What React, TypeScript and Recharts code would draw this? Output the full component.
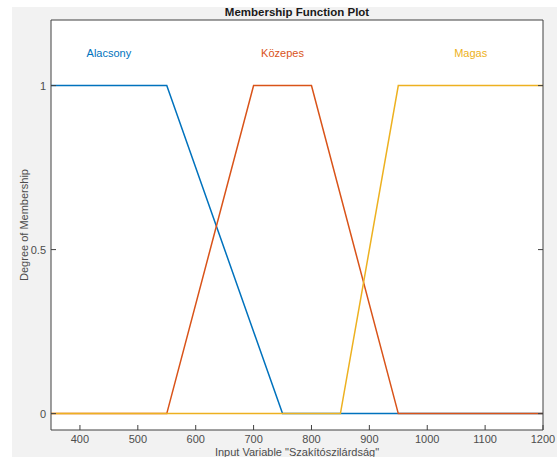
import { CartesianGrid, Line, LineChart, ReferenceDot, XAxis, YAxis } from "recharts";

const xTicks = [400, 500, 600, 700, 800, 900, 1000, 1100, 1200];
const yTicks = [0, 0.5, 1];

const alacsony = [
  { x: 350, y: 1 },
  { x: 550, y: 1 },
  { x: 750, y: 0 },
  { x: 1200, y: 0 }
];
const kozepes = [
  { x: 350, y: 0 },
  { x: 550, y: 0 },
  { x: 700, y: 1 },
  { x: 800, y: 1 },
  { x: 950, y: 0 },
  { x: 1200, y: 0 }
];
const magas = [
  { x: 350, y: 0 },
  { x: 850, y: 0 },
  { x: 950, y: 1 },
  { x: 1200, y: 1 }
];

const mfLabels = [
  { name: "Alacsony", x: 450, y: 1.1, color: "#0072BD" },
  { name: "Közepes", x: 750, y: 1.1, color: "#D95319" },
  { name: "Magas", x: 1075, y: 1.1, color: "#EDB120" }
];

const font = "'Liberation Sans', Arial, sans-serif";
const axisColor = "#404040";
const textColor = "#4d4d4d";

function BottomTick({ x, y, payload }: any) {
  return (
    <g>
      <line x1={x} x2={x} y1={y} y2={y - 5} stroke={axisColor} />
      <text x={x} y={y + 13} textAnchor="middle" fontSize={11} fill={textColor} fontFamily={font}>
        {payload.value}
      </text>
    </g>
  );
}

function TopTick({ x, y }: any) {
  return <line x1={x} x2={x} y1={y} y2={y + 5} stroke={axisColor} />;
}

function LeftTick({ x, y, payload }: any) {
  return (
    <g>
      <line x1={x} x2={x + 5} y1={y} y2={y} stroke={axisColor} />
      <text x={x - 5} y={y + 4} textAnchor="end" fontSize={11} fill={textColor} fontFamily={font}>
        {payload.value}
      </text>
    </g>
  );
}

function RightTick({ x, y }: any) {
  return <line x1={x} x2={x - 5} y1={y} y2={y} stroke={axisColor} />;
}

export default function App() {
  return (
    <div
      style={{
        position: "absolute",
        left: 0,
        top: 0,
        width: 557,
        height: 457,
        overflow: "hidden",
        background: "#fff"
      }}
    >
      <div
        style={{ position: "absolute", left: 12, top: 7, right: 0, bottom: 0, background: "#f2f2f2" }}
      />
      <div style={{ position: "absolute", left: 0, top: 0 }}>
        <LineChart width={557} height={457} margin={{ top: 0, right: 0, bottom: 0, left: 0 }}>
          <CartesianGrid fill="#ffffff" horizontal={false} vertical={false} />
          <XAxis
            type="number"
            dataKey="x"
            domain={[350, 1200]}
            ticks={xTicks}
            height={27}
            allowDataOverflow
            tickLine={false}
            tickSize={0}
            tickMargin={0}
            axisLine={{ stroke: axisColor }}
            tick={<BottomTick />}
            interval={0}
            label={{
              content: ({ viewBox }: any) => (
                <text
                  x={viewBox.x + viewBox.width / 2}
                  y={455.5}
                  textAnchor="middle"
                  fontSize={11}
                  fill={textColor}
                  fontFamily={font}
                >
                  Input Variable "Szakítószilárdság"
                </text>
              )
            }}
          />
          <XAxis
            xAxisId="top"
            orientation="top"
            type="number"
            domain={[350, 1200]}
            ticks={xTicks}
            height={20}
            allowDataOverflow
            tickLine={false}
            tickSize={0}
            tickMargin={0}
            axisLine={{ stroke: axisColor }}
            tick={<TopTick />}
            interval={0}
            label={{
              content: ({ viewBox }: any) => (
                <text
                  x={viewBox.x + viewBox.width / 2}
                  y={16}
                  textAnchor="middle"
                  fontSize={11.5}
                  fontWeight="bold"
                  fill="#1a1a1a"
                  fontFamily={font}
                >
                  Membership Function Plot
                </text>
              )
            }}
          />
          <YAxis
            type="number"
            domain={[-0.05, 1.2]}
            ticks={yTicks}
            width={51}
            allowDataOverflow
            tickLine={false}
            tickSize={0}
            tickMargin={0}
            axisLine={{ stroke: axisColor }}
            tick={<LeftTick />}
            interval={0}
            label={{
              content: ({ viewBox }: any) => {
                const cy = viewBox.y + viewBox.height / 2;
                return (
                  <text
                    x={24}
                    y={cy}
                    transform={`rotate(-90, 24, ${cy})`}
                    textAnchor="middle"
                    dominantBaseline="central"
                    fontSize={11}
                    fill={textColor}
                    fontFamily={font}
                  >
                    Degree of Membership
                  </text>
                );
              }
            }}
          />
          <YAxis
            yAxisId="right"
            orientation="right"
            type="number"
            domain={[-0.05, 1.2]}
            ticks={yTicks}
            width={14}
            allowDataOverflow
            tickLine={false}
            tickSize={0}
            tickMargin={0}
            axisLine={{ stroke: axisColor }}
            tick={<RightTick />}
            interval={0}
          />
          <Line
            data={alacsony}
            dataKey="y"
            type="linear"
            stroke="#0072BD"
            strokeWidth={1.5}
            dot={false}
            isAnimationActive={false}
          />
          <Line
            data={kozepes}
            dataKey="y"
            type="linear"
            stroke="#D95319"
            strokeWidth={1.5}
            dot={false}
            isAnimationActive={false}
          />
          <Line
            data={magas}
            dataKey="y"
            type="linear"
            stroke="#EDB120"
            strokeWidth={1.5}
            dot={false}
            isAnimationActive={false}
          />
          {mfLabels.map((m) => (
            <ReferenceDot
              key={m.name}
              x={m.x}
              y={m.y}
              r={0}
              stroke="none"
              fill="none"
              label={{
                value: m.name,
                position: "center",
                fill: m.color,
                fontSize: 11,
                fontFamily: font
              }}
            />
          ))}
        </LineChart>
      </div>
    </div>
  );
}
